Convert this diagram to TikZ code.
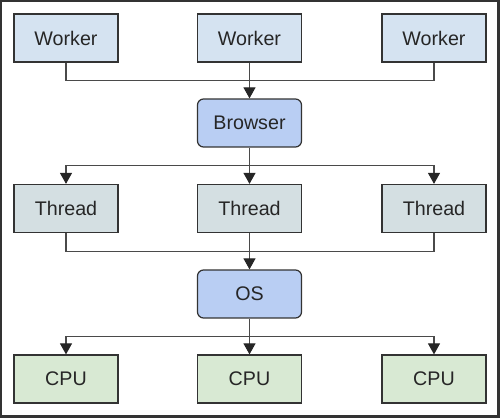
\documentclass[tikz,border=0pt]{standalone}
\usepackage{fontspec}
\setmainfont{Liberation Sans}
\usetikzlibrary{arrows.meta,calc}

\definecolor{workerfill}{HTML}{D5E3F1}
\definecolor{corefill}{HTML}{B9CEF3}
\definecolor{threadfill}{HTML}{D4DFE2}
\definecolor{cpufill}{HTML}{D8E9D3}
\definecolor{edgegray}{HTML}{333333}
\definecolor{linegray}{HTML}{4A4A4A}

\tikzset{
    box/.style={draw=edgegray, line width=0.7pt, minimum width=2.08cm, minimum height=0.96cm,
                inner sep=0pt, font=\fontsize{11.2}{13}\selectfont, text=black!85},
    workerbox/.style={box, fill=workerfill},
    corebox/.style={box, fill=corefill, rounded corners=0.12cm},
    threadbox/.style={box, fill=threadfill},
    cpubox/.style={box, fill=cpufill},
    link/.style={draw=linegray, line width=0.6pt},
    arrowlink/.style={link, -{Triangle[width=0.24cm,length=0.22cm,color=black!85]}}
}

\begin{document}
\begin{tikzpicture}[x=0.02cm, y=-0.02cm]
            \useasboundingbox (0,0) rectangle (500,418);
            \draw[draw=edgegray, line width=1.2pt] (1,1) rectangle (498.5,416.5);

            \node[workerbox] (w1) at (66,38) {Worker};
            \node[workerbox] (w2) at (249.5,38) {Worker};
            \node[workerbox] (w3) at (434,38) {Worker};

            \node[corebox] (browser) at (249.5,123) {Browser};

            \node[threadbox] (t1) at (66,208.5) {Thread};
            \node[threadbox] (t2) at (249.5,208.5) {Thread};
            \node[threadbox] (t3) at (434,208.5) {Thread};

            \node[corebox] (os) at (249.5,294) {OS};

            \node[cpubox] (c1) at (66,379) {CPU};
            \node[cpubox] (c2) at (249.5,379) {CPU};
            \node[cpubox] (c3) at (434,379) {CPU};

            \coordinate (wbus) at ($(w2.south)!0.5!(browser.north)$);
            \coordinate (tbus) at ($(browser.south)!0.5!(t2.north)$);
            \coordinate (obus) at ($(t2.south)!0.5!(os.north)$);
            \coordinate (cbus) at ($(os.south)!0.5!(c2.north)$);

            \draw[link] (w1.south) |- (wbus) -| (w3.south);
            \draw[arrowlink] (w2.south) -- (browser.north);

            \draw[arrowlink] (browser.south) -- (t2.north);
            \draw[arrowlink] (tbus) -| (t1.north);
            \draw[arrowlink] (tbus) -| (t3.north);

            \draw[link] (t1.south) |- (obus) -| (t3.south);
            \draw[arrowlink] (t2.south) -- (os.north);

            \draw[arrowlink] (os.south) -- (c2.north);
            \draw[arrowlink] (cbus) -| (c1.north);
            \draw[arrowlink] (cbus) -| (c3.north);
        \end{tikzpicture}
\end{document}
